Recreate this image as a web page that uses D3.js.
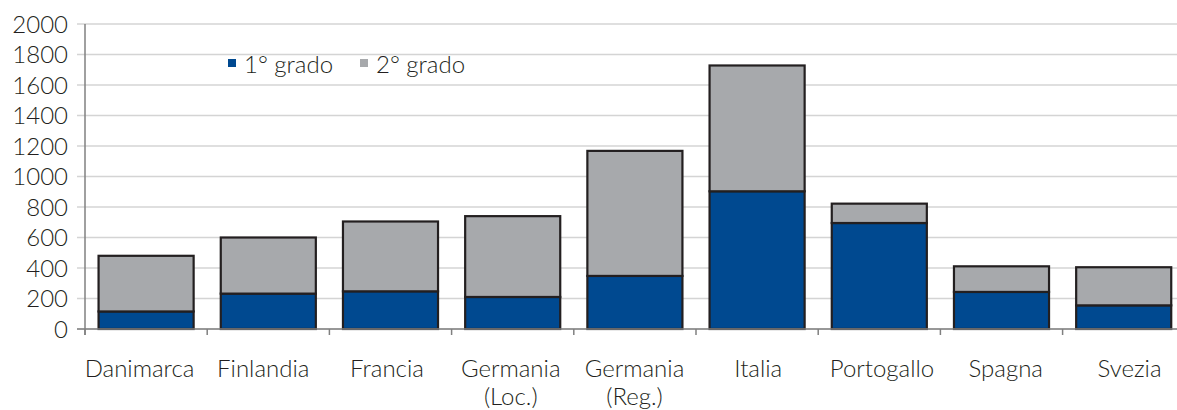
<!DOCTYPE html>
<html>
<head>
<meta charset="utf-8">
<script src="https://cdn.jsdelivr.net/npm/d3@7"></script>
<style>
  html, body { margin: 0; padding: 0; background: #fff; }
  svg { display: block; }
  text { font-family: Lato, "Open Sans", sans-serif; font-weight: 300; fill: #231f20; }
</style>
</head>
<body>
<svg id="chart" width="1177" height="410"></svg>
<script>
const categories = [["Danimarca"], ["Finlandia"], ["Francia"], ["Germania", "(Loc.)"], ["Germania", "(Reg.)"], ["Italia"], ["Portogallo"], ["Spagna"], ["Svezia"]];
const seriesNames = ["1° grado", "2° grado"];
const primo = [115, 232, 247, 210, 348, 903, 695, 243, 155];
const totale = [480, 600, 705, 740, 1168, 1728, 822, 411, 405];
const secondo = totale.map((t, i) => t - primo[i]);
const yTicks = [0, 200, 400, 600, 800, 1000, 1200, 1400, 1600, 1800, 2000];
const colors = ["#004990", "#a7a9ac"];

const svg = d3.select("#chart");
const keys = categories.map(c => c.join(" "));
const plotLeft = 85, plotBottom = 329, plotTop = 24;
const x = d3.scaleBand().domain(keys).range([plotLeft, plotLeft + 9 * 122.2]).paddingInner(0.222).paddingOuter(0.111);
const xLabel = d3.scalePoint().domain(keys).range([139.5, 1129.5]);
const y = d3.scaleLinear().domain([0, 2000]).range([plotBottom, plotTop]);
const step = x.step();

// gridlines + y ticks
svg.append("g").selectAll("line").data(yTicks).join("line")
  .attr("x1", plotLeft - 8).attr("x2", 1177)
  .attr("y1", d => y(d)).attr("y2", d => y(d))
  .attr("stroke", "#d4d4d4").attr("stroke-width", 1.5);

svg.append("g").selectAll("text").data(yTicks).join("text")
  .attr("x", plotLeft - 17).attr("y", d => y(d)).attr("dy", "0.36em")
  .attr("text-anchor", "end").attr("font-size", 24).text(d => d);

// stacked data
const rows = keys.map((k, i) => ({ key: k, a: primo[i], b: secondo[i] }));
const stack = d3.stack().keys(["a", "b"])(rows);

svg.append("g").selectAll("g").data(stack).join("g")
  .attr("fill", (d, i) => colors[i])
  .selectAll("rect").data(d => d).join("rect")
  .attr("x", d => x(d.data.key))
  .attr("width", x.bandwidth())
  .attr("y", d => y(d[1]))
  .attr("height", d => y(d[0]) - y(d[1]))
  .attr("stroke", "#231f20").attr("stroke-width", 2.2);

// axes lines
svg.append("line").attr("x1", plotLeft).attr("x2", plotLeft).attr("y1", plotTop).attr("y2", plotBottom + 6)
  .attr("stroke", "#808080").attr("stroke-width", 1.5);
svg.append("line").attr("x1", plotLeft - 8).attr("x2", 1177).attr("y1", plotBottom).attr("y2", plotBottom)
  .attr("stroke", "#808080").attr("stroke-width", 1.5);

// x ticks at band boundaries
const bounds = keys.map(k => x(k) - step * x.paddingInner() / 2).concat([x(keys[keys.length - 1]) + x.bandwidth() + step * x.paddingInner() / 2]);
svg.append("g").selectAll("line").data(bounds).join("line")
  .attr("x1", d => d).attr("x2", d => d)
  .attr("y1", plotBottom).attr("y2", plotBottom + 6)
  .attr("stroke", "#808080").attr("stroke-width", 1.5);

// category labels
const lab = svg.append("g").selectAll("text").data(categories).join("text")
  .attr("x", (d, i) => xLabel(keys[i]))
  .attr("y", 377).attr("text-anchor", "middle").attr("font-size", 24);
lab.selectAll("tspan").data(d => d).join("tspan")
  .attr("x", function() { return d3.select(this.parentNode).attr("x"); })
  .attr("dy", (d, i) => i === 0 ? 0 : 28)
  .text(d => d);

// legend
const legendX = [228, 360];
const lg = svg.append("g").selectAll("g").data(seriesNames).join("g");
lg.append("rect").attr("x", (d, i) => legendX[i]).attr("y", 59).attr("width", 8).attr("height", 8)
  .attr("fill", (d, i) => colors[i]);
lg.append("text").attr("x", (d, i) => legendX[i] + 16).attr("y", 73).attr("font-size", 24).text(d => d);
</script>
</body>
</html>
